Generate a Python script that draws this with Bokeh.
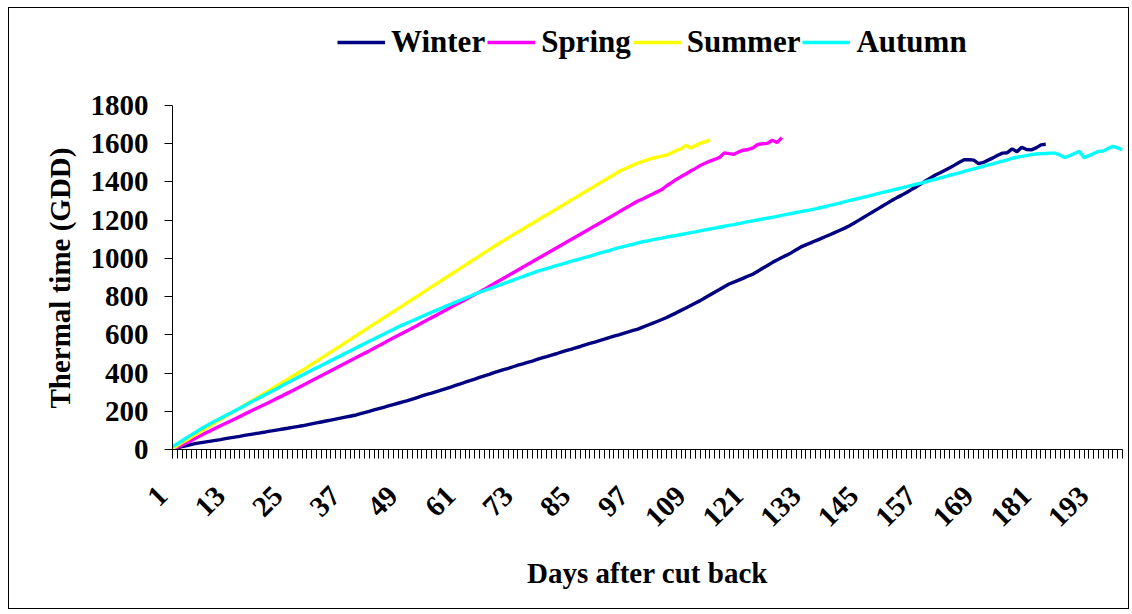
import math
from bokeh.plotting import figure
from bokeh.models import Range1d, FixedTicker, Legend, LegendItem, Title
from bokeh.embed import file_html
from bokeh.resources import INLINE

# ---------------- data ----------------
series_names = ["Winter", "Spring", "Summer", "Autumn"]
series_colors = ["#000080", "#FF00FF", "#FFFF00", "#00FFFF"]

tick_days = [1, 13, 25, 37, 49, 61, 73, 85, 97, 109, 121, 133, 145, 157, 169, 181, 193]
tick_labels = ["1", "13", "25", "37", "49", "61", "73", "85", "97", "109", "121",
               "133", "145", "157", "169", "181", "193"]
y_ticks = [0, 200, 400, 600, 800, 1000, 1200, 1400, 1600, 1800]
n_days = 199

winter = [3, 9, 15, 21, 27, 32, 36, 40, 44, 48, 52, 57, 61, 65, 69, 74, 78, 82, 86, 90,
          95, 99, 103, 107, 111, 116, 120, 124, 129, 134, 139, 144, 149, 154, 159, 164, 169, 174, 179, 186,
          193, 200, 207, 214, 221, 228, 235, 242, 249, 256, 264, 272, 280, 288, 295, 303, 311, 319, 327, 335,
          343, 352, 360, 368, 377, 385, 393, 402, 410, 418, 425, 433, 441, 448, 456, 463, 471, 479, 486, 494,
          501, 509, 517, 524, 532, 539, 547, 555, 562, 570, 577, 585, 593, 600, 608, 615, 623, 630, 640, 650,
          660, 670, 680, 691, 703, 715, 728, 740, 753, 766, 779, 794, 808, 823, 837, 852, 866, 876, 886, 897,
          908, 918, 933, 948, 963, 978, 992, 1005, 1017, 1030, 1045, 1060, 1071, 1081, 1092, 1102, 1113, 1124, 1135, 1146,
          1157, 1170, 1184, 1199, 1214, 1229, 1244, 1259, 1274, 1289, 1304, 1318, 1331, 1345, 1360, 1374, 1390, 1406, 1421, 1436,
          1448, 1461, 1474, 1488, 1503, 1516, 1517, 1514, 1496, 1502, 1514, 1526, 1540, 1551, 1553, 1573, 1558, 1582, 1570, 1568,
          1578, 1594, 1597]

spring = [0, 10, 23, 36, 48, 61, 74, 88, 99, 112, 124, 136, 148, 160, 172, 185, 197, 209, 221, 233,
          245, 258, 270, 282, 295, 308, 321, 334, 347, 360, 373, 386, 399, 412, 425, 438, 451, 464, 477, 490,
          503, 516, 530, 543, 556, 570, 583, 596, 610, 622, 636, 649, 663, 676, 690, 703, 717, 730, 744, 757,
          771, 784, 798, 811, 824, 838, 853, 867, 882, 896, 910, 925, 939, 954, 968, 982, 997, 1011, 1026, 1040,
          1054, 1069, 1083, 1098, 1112, 1126, 1141, 1155, 1170, 1184, 1198, 1213, 1227, 1242, 1257, 1271, 1286, 1300, 1311, 1324,
          1336, 1348, 1360, 1380, 1396, 1413, 1428, 1442, 1457, 1471, 1486, 1498, 1509, 1518, 1528, 1552, 1548, 1545, 1557, 1566,
          1570, 1578, 1596, 1600, 1602, 1618, 1606, 1632]

summer = [5, 20, 36, 50, 66, 81, 97, 111, 126, 142, 157, 172, 187, 202, 216, 232, 247, 262, 278, 292,
          307, 323, 338, 352, 368, 383, 398, 413, 430, 446, 461, 478, 494, 510, 527, 542, 559, 575, 591, 608,
          623, 640, 656, 672, 689, 704, 721, 737, 753, 770, 786, 802, 818, 835, 851, 867, 883, 900, 916, 932,
          948, 965, 981, 997, 1013, 1030, 1046, 1062, 1078, 1093, 1108, 1124, 1138, 1153, 1169, 1183, 1198, 1214, 1228, 1243,
          1259, 1273, 1288, 1304, 1318, 1333, 1349, 1363, 1378, 1394, 1408, 1423, 1438, 1454, 1466, 1477, 1488, 1499, 1508, 1516,
          1524, 1530, 1535, 1541, 1552, 1565, 1573, 1592, 1578, 1590, 1603, 1610, 1620]

autumn = [15, 30, 46, 62, 78, 93, 109, 123, 137, 150, 163, 177, 190, 203, 216, 229, 243, 256, 269, 283,
          296, 309, 322, 336, 349, 362, 376, 389, 402, 415, 427, 440, 452, 465, 478, 490, 503, 515, 528, 541,
          553, 566, 578, 591, 603, 616, 628, 641, 652, 663, 674, 685, 696, 707, 718, 728, 739, 750, 760, 771,
          781, 792, 802, 813, 823, 832, 841, 850, 859, 868, 877, 886, 896, 905, 914, 923, 932, 940, 947, 954,
          962, 969, 976, 984, 991, 998, 1005, 1012, 1020, 1027, 1034, 1041, 1049, 1056, 1062, 1068, 1074, 1081, 1087, 1092,
          1097, 1102, 1106, 1111, 1116, 1120, 1125, 1130, 1135, 1139, 1144, 1149, 1154, 1158, 1163, 1168, 1173, 1177, 1182, 1187,
          1192, 1196, 1201, 1206, 1211, 1215, 1220, 1225, 1230, 1235, 1240, 1245, 1249, 1254, 1259, 1265, 1271, 1277, 1283, 1289,
          1296, 1302, 1308, 1314, 1320, 1326, 1332, 1339, 1345, 1351, 1357, 1363, 1369, 1376, 1382, 1388, 1394, 1401, 1408, 1414,
          1421, 1428, 1435, 1441, 1448, 1455, 1462, 1468, 1475, 1482, 1489, 1495, 1502, 1509, 1516, 1524, 1529, 1534, 1538, 1543,
          1546, 1548, 1549, 1551, 1551, 1540, 1528, 1538, 1549, 1561, 1527, 1538, 1549, 1560, 1562, 1575, 1586, 1578, 1568]

series_values = [winter, spring, summer, autumn]

FONT = "Liberation Serif"
FS = "29px"
NBSP = "\u00a0"

# ---------------- figure ----------------
# frame: value 0 at 431 px below frame top, 1800 at 344 px above that (scale 344/1800)
y_top = 431 * 1800 / 344
p = figure(width=1121, height=602, output_backend="svg", toolbar_location=None,
           x_range=Range1d(1, n_days), y_range=Range1d(0, y_top),
           min_border_left=163, min_border_right=8, min_border_top=10, min_border_bottom=161)
p.styles = {"border": "1px solid black", "margin-left": "8px", "margin-top": "7px"}
p.background_fill_color = "white"
p.border_fill_color = "white"
p.outline_line_color = None
p.xgrid.visible = False
p.ygrid.visible = False

items = []
for name, vals, col in zip(series_names, series_values, series_colors):
    days = list(range(1, len(vals) + 1))
    r = p.line(days, vals, line_color=col, line_width=3.4)
    items.append(LegendItem(label=name, renderers=[r]))

legend = Legend(items=items, location=(165, 389), orientation="horizontal")
legend.label_text_font = FONT
legend.label_text_font_style = "bold"
legend.label_text_font_size = "31px"
legend.label_text_color = "black"
legend.glyph_width = 48
legend.glyph_height = 20
legend.label_standoff = 6
legend.spacing = 2
legend.padding = 0
legend.margin = 0
legend.border_line_color = None
legend.background_fill_alpha = 0
p.add_layout(legend)

# x axis
xa = p.xaxis[0]
xa.ticker = FixedTicker(ticks=tick_days, minor_ticks=list(range(1, n_days + 1)))
xa.major_label_overrides = {d: s + NBSP * 2 for d, s in zip(tick_days, tick_labels)}
xa.major_label_orientation = math.pi / 4
xa.major_tick_out = 9
xa.major_tick_in = 0
xa.minor_tick_out = 9
xa.minor_tick_in = 0
xa.axis_line_color = "black"
xa.major_tick_line_color = "black"
xa.minor_tick_line_color = "black"
xa.major_label_text_font = FONT
xa.major_label_text_font_style = "bold"
xa.major_label_text_font_size = FS
xa.major_label_text_color = "black"
xa.major_label_standoff = 22
xa.axis_label = "Days after cut back"
xa.axis_label_text_font = FONT
xa.axis_label_text_font_style = "bold"
xa.axis_label_text_font_size = FS
xa.axis_label_text_color = "black"
xa.axis_label_standoff = 10

# y axis
ya = p.yaxis[0]
ya.bounds = (0, 1800)
ya.ticker = FixedTicker(ticks=y_ticks, minor_ticks=[])
ya.major_tick_out = 8
ya.major_tick_in = 0
ya.minor_tick_line_color = None
ya.axis_line_color = "black"
ya.major_tick_line_color = "black"
ya.major_label_text_font = FONT
ya.major_label_text_font_style = "bold"
ya.major_label_text_font_size = FS
ya.major_label_text_color = "black"
ya.major_label_standoff = 16

# y-axis title, placed along the 0..1800 part of the axis
ytitle = Title(text="Thermal time (GDD)", align="left", offset=41, standoff=23,
               text_font=FONT, text_font_style="bold", text_font_size=FS,
               text_color="black")
p.add_layout(ytitle, "left")

open("out.html", "w").write(file_html(p, INLINE))
